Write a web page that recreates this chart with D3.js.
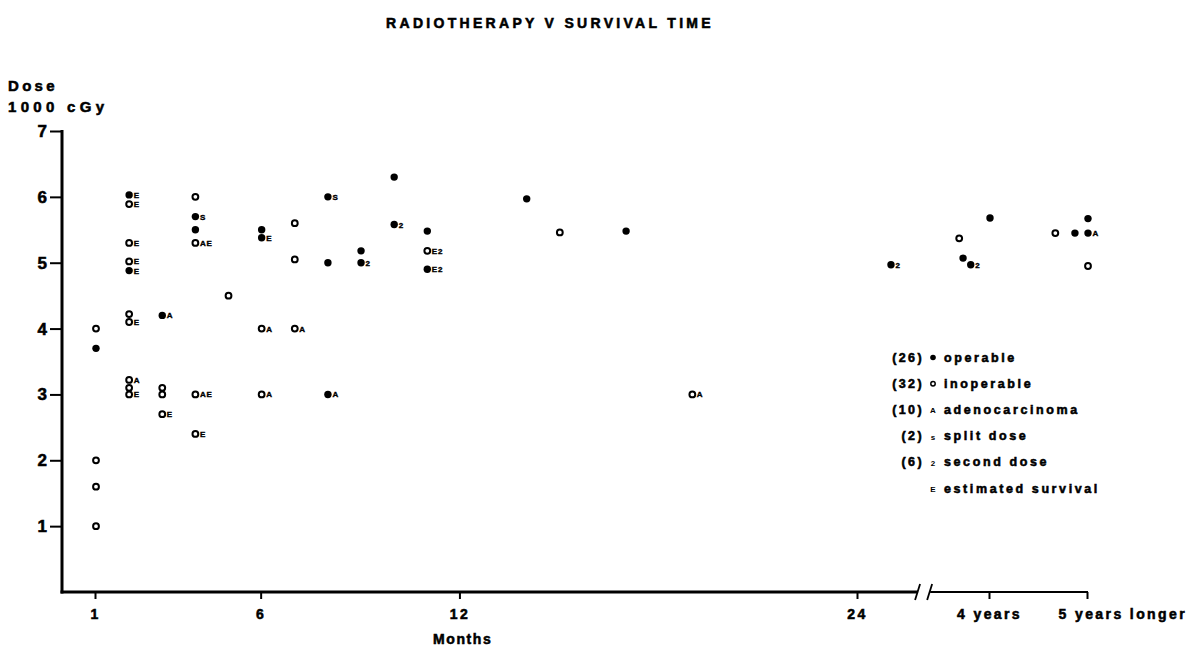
<!DOCTYPE html>
<meta charset="utf-8">
<script src="https://d3js.org/d3.v7.min.js"></script>
<html>
<style>
body { margin: 0; background: #fff; }
svg text { font-family: "Liberation Sans", Arial, sans-serif; font-weight: bold; fill: #000; }
svg text.heavy { stroke: #000; stroke-width: 0.55px; }
</style>
<body>
<svg id="chart" width="1199" height="651"></svg>
<script>

// survival time in months (after 24 months the axis is compressed)
var survival = [1, 1, 1, 1, 1,
  2, 2, 2, 2, 2, 2, 2, 2, 2, 2,
  3, 3, 3, 3,
  4, 4, 4, 4, 4, 4,
  5,
  6, 6, 6, 6,
  7, 7, 7,
  8, 8, 8,
  9, 9,
  10, 10,
  11, 11, 11,
  14, 15, 17, 19,
  30, 42.4, 43.1, 44.5, 48, 56, 58.4, 60, 60, 60];
// dose in 1000 cGy
var dose = [4.0, 3.7, 2.0, 1.6, 1.0,
  6.03, 5.89, 5.3, 5.02, 4.88, 4.22, 4.1, 3.22, 3.1, 3.0,
  4.2, 3.1, 3.0, 2.7,
  6.0, 5.7, 5.5, 5.3, 3.0, 2.4,
  4.5,
  5.5, 5.38, 4.0, 3.0,
  5.6, 5.05, 4.0,
  6.0, 5.0, 3.0,
  5.18, 5.0,
  6.3, 5.58,
  5.48, 5.18, 4.9,
  5.97, 5.46, 5.48, 3.0,
  4.97, 5.37, 5.07, 4.97, 5.68, 5.45, 5.45, 5.67, 5.45, 4.95];
// 1 = operable, 0 = inoperable
var operable = [0, 1, 0, 0, 0,
  1, 0, 0, 0, 1, 0, 0, 0, 0, 0,
  1, 0, 0, 0,
  0, 1, 1, 0, 0, 0,
  0,
  1, 1, 0, 0,
  0, 0, 0,
  1, 1, 1,
  1, 1,
  1, 1,
  1, 0, 1,
  1, 0, 1, 0,
  1, 0, 1, 1, 1, 0, 1, 1, 1, 0];
// A adenocarcinoma, S split dose, 2 second dose, E estimated survival
var notes = ["", "", "", "", "",
  "E", "E", "E", "E", "E", "", "E", "A", "", "E",
  "A", "", "", "E",
  "", "S", "", "AE", "AE", "E",
  "",
  "", "E", "A", "A",
  "", "", "A",
  "S", "", "A",
  "", "2",
  "", "2",
  "", "E2", "E2",
  "", "", "", "A",
  "2", "", "", "2", "", "", "", "", "A", ""];

var xTicks = [1, 6, 12, 24, 48, 60];
var xTickLabels = ["1", "6", "12", "24", "4 years", "5 years longer"];
var yTicks = [1, 2, 3, 4, 5, 6, 7];
var axisBreak = [35.1, 37.3];

var legendCounts = ["(26)", "(32)", "(10)", "(2)", "(6)", ""];
var legendSymbols = ["filled", "open", "A", "s", "2", "E"];
var legendLabels = ["operable", "inoperable", "adenocarcinoma", "split dose", "second dose", "estimated survival"];

var svg = d3.select("#chart");

var x = d3.scaleLinear().domain([1, 24, 48, 60]).range([95, 857, 989, 1087]);
var y = d3.scaleLinear().domain([0, 7]).range([592, 131]);
var x0 = 62;

// title
svg.append("text")
  .attr("class", "heavy")
  .attr("x", 550).attr("y", 28)
  .attr("text-anchor", "middle")
  .style("font-size", "14px")
  .style("letter-spacing", "3.3px")
  .text("RADIOTHERAPY V SURVIVAL TIME");

// y axis label
svg.append("text").attr("class", "heavy").attr("x", 8).attr("y", 91)
  .style("font-size", "15px").style("letter-spacing", "3.3px").text("Dose");
svg.append("text").attr("class", "heavy").attr("x", 8).attr("y", 112)
  .style("font-size", "15px").style("letter-spacing", "4.3px").text("1000 cGy");

// y axis
var yAxis = svg.append("g")
  .attr("transform", "translate(" + x0 + ",0)")
  .call(d3.axisLeft(y).tickValues(yTicks).tickSize(12).tickSizeOuter(0).tickPadding(3).tickFormat(d3.format("d")));
yAxis.select(".domain").remove();
yAxis.selectAll(".tick line").attr("stroke", "#000").attr("stroke-width", 2);
yAxis.selectAll(".tick text").attr("class", "heavy").style("font-size", "17px").attr("font-family", null);
svg.append("line")
  .attr("x1", x0).attr("x2", x0)
  .attr("y1", y(7) - 1).attr("y2", y(0) + 1.5)
  .attr("stroke", "#000").attr("stroke-width", 3);

// x axis
var xAxis = svg.append("g")
  .attr("transform", "translate(0," + y(0) + ")")
  .call(d3.axisBottom(x).tickValues(xTicks).tickSize(7).tickSizeOuter(0).tickPadding(10)
    .tickFormat(function (d, i) { return xTickLabels[i]; }));
xAxis.select(".domain").remove();
xAxis.selectAll(".tick line").attr("stroke", "#000").attr("stroke-width", 2);
xAxis.selectAll(".tick text").attr("class", "heavy")
  .style("font-size", "14px").style("letter-spacing", "2.4px").attr("font-family", null);
xAxis.selectAll(".tick text").filter(function (d) { return d === 60; })
  .attr("text-anchor", "start").attr("x", -29);

var b0 = x(axisBreak[0]), b1 = x(axisBreak[1]);
svg.append("line")
  .attr("x1", x0 - 1.5).attr("x2", b0)
  .attr("y1", y(0)).attr("y2", y(0))
  .attr("stroke", "#000").attr("stroke-width", 3);
svg.append("line")
  .attr("x1", b1).attr("x2", x(60) + 1)
  .attr("y1", y(0)).attr("y2", y(0))
  .attr("stroke", "#000").attr("stroke-width", 2.2);
[b0, b1].forEach(function (bx) {
  svg.append("line")
    .attr("x1", bx - 3).attr("x2", bx + 2)
    .attr("y1", y(0) + 8).attr("y2", y(0) - 8)
    .attr("stroke", "#000").attr("stroke-width", 1.8);
});

svg.append("text").attr("class", "heavy").attr("x", 433).attr("y", 644)
  .style("font-size", "14px").style("letter-spacing", "1.6px").text("Months");

// points
var pts = survival.map(function (m, i) {
  return { m: m, d: dose[i], op: operable[i], note: notes[i] };
});

var g = svg.append("g");
g.selectAll("circle.pt")
  .data(pts)
  .enter().append("circle")
  .attr("class", "pt")
  .attr("cx", function (d) { return x(d.m) + 1; })
  .attr("cy", function (d) { return y(d.d); })
  .attr("r", function (d) { return d.op ? 3.7 : 2.9; })
  .attr("fill", function (d) { return d.op ? "#000" : "#fff"; })
  .attr("stroke", "#000")
  .attr("stroke-width", function (d) { return d.op ? 0 : 2; });

g.selectAll("text.note")
  .data(pts.filter(function (d) { return d.note; }))
  .enter().append("text")
  .attr("class", "note")
  .attr("x", function (d) { return x(d.m) + 5.5; })
  .attr("y", function (d) { return y(d.d) + 3; })
  .style("font-size", "8px")
  .style("letter-spacing", "0.8px")
  .style("stroke", "#000").style("stroke-width", "0.4px")
  .text(function (d) { return d.note; });

// legend
var legend = svg.append("g").attr("transform", "translate(0,357)");
var rows = legend.selectAll("g")
  .data(legendLabels)
  .enter().append("g")
  .attr("transform", function (d, i) { return "translate(0," + (i * 26.2) + ")"; });

rows.append("text")
  .attr("class", "heavy")
  .attr("x", 924).attr("y", 4.5)
  .attr("text-anchor", "end")
  .style("font-size", "12.5px").style("letter-spacing", "2.4px")
  .text(function (d, i) { return legendCounts[i]; });

rows.each(function (d, i) {
  var s = legendSymbols[i], r = d3.select(this);
  if (s === "filled" || s === "open") {
    r.append("circle").attr("cx", 933).attr("cy", 0.5)
      .attr("r", s === "filled" ? 2.8 : 2.2)
      .attr("fill", s === "filled" ? "#000" : "#fff")
      .attr("stroke", "#000").attr("stroke-width", s === "filled" ? 0 : 1.5);
  } else {
    r.append("text").attr("x", 933).attr("y", 4)
      .attr("text-anchor", "middle")
      .style("font-size", "8px")
      .text(s);
  }
});

rows.append("text")
  .attr("class", "heavy")
  .attr("x", 944).attr("y", 4.5)
  .style("font-size", "12.5px").style("letter-spacing", "2.6px")
  .text(function (d) { return d; });

</script>
</body>
</html>
